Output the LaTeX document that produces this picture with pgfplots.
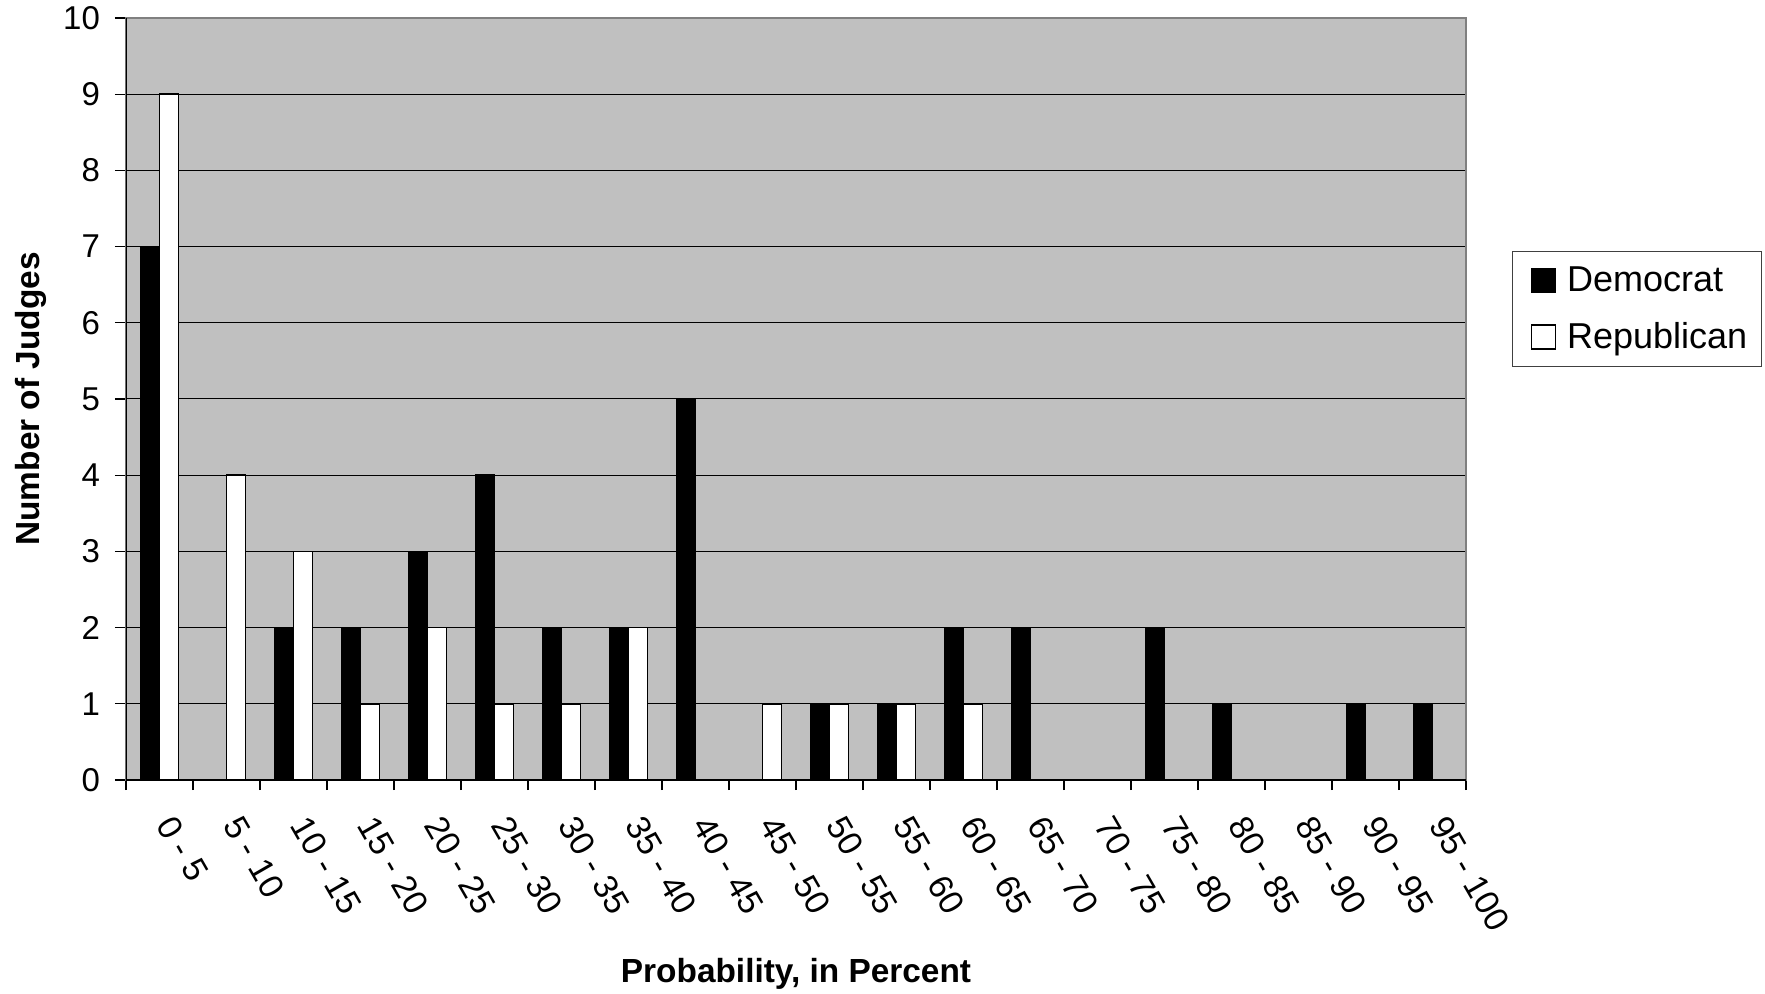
\documentclass[border=0pt]{standalone}
\usepackage{fontspec}
\setmainfont{Liberation Sans}
\usepackage{pgfplots}
\pgfplotsset{compat=1.18}
\definecolor{plotgray}{HTML}{C0C0C0}
\definecolor{framegray}{HTML}{808080}
\begin{document}
\begin{tikzpicture}
\useasboundingbox (-63pt,-107pt) rectangle (819.5pt,390pt);
\begin{axis}[
  at={(0,0)}, anchor=south west,
  scale only axis, width=670pt, height=381pt,
  ybar=0pt, bar width=9.5pt,
  xmin=-0.5, xmax=19.5, ymin=0, ymax=10,
  xtick={0,...,19},
  xticklabels={0 - 5, 5 - 10, 10 - 15, 15 - 20, 20 - 25, 25 - 30, 30 - 35, 35 - 40, 40 - 45, 45 - 50, 50 - 55, 55 - 60, 60 - 65, 65 - 70, 70 - 75, 75 - 80, 80 - 85, 85 - 90, 90 - 95, 95 - 100},
  minor xtick={-0.5,0.5,...,19.5},
  ytick={0,...,10},
  tick pos=left, tick align=outside,
  major tick length=5.5pt, minor tick length=5pt,
  every major x tick/.append style={draw opacity=0},
  tick style={black, line width=0.6pt},
  minor tick style={black, line width=0.6pt},
  ymajorgrids,
  major grid style={black, line width=0.5pt},
  axis background/.style={fill=plotgray},
  axis line style={framegray, line width=0.8pt},
  /pgf/number format/assume math mode=true,
  yticklabel style={font=\fontsize{16.5}{19}\selectfont, xshift=-4pt},
  xticklabel style={font=\fontsize{17}{20}\selectfont, inner sep=0pt,
    xshift=8.5pt, yshift=-11pt, rotate=-60, anchor=north west},
  xlabel={Probability, in Percent},
  ylabel={Number of Judges},
  label style={font=\bfseries\fontsize{16.7}{19}\selectfont},
  xlabel style={at={(axis description cs:0.5,-0.2546)}, anchor=center},
  ylabel style={at={(axis description cs:-0.071,0.5)}, anchor=center},
  legend style={at={(1.0343,0.6942)}, anchor=north west, draw=black!75, line width=0.6pt,
    font=\fontsize{18}{21}\selectfont, inner xsep=5pt, inner ysep=5.5pt,
    nodes={inner sep=2pt}, row sep=10pt},
  legend cell align=left,
  legend image code/.code={\path (-4pt,0pt) (15.5pt,0pt);
    \draw[#1, line width=0.6pt] (0pt,-6pt) rectangle (12pt,6pt);},
]
\addplot[fill=black, draw=black, line width=0.75pt] coordinates {
(0,7) (1,0) (2,2) (3,2) (4,3) (5,4) (6,2) (7,2) (8,5) (9,0)
(10,1) (11,1) (12,2) (13,2) (14,0) (15,2) (16,1) (17,0) (18,1) (19,1)};
\addplot[fill=white, draw=black, line width=0.75pt] coordinates {
(0,9) (1,4) (2,3) (3,1) (4,2) (5,1) (6,1) (7,2) (8,0) (9,1)
(10,1) (11,1) (12,1) (13,0) (14,0) (15,0) (16,0) (17,0) (18,0) (19,0)};
\legend{Democrat, Republican}
\draw[black, line width=0.8pt] (rel axis cs:0,1) -- (rel axis cs:0,0) -- (rel axis cs:1,0);
\end{axis}
\end{tikzpicture}
\end{document}
